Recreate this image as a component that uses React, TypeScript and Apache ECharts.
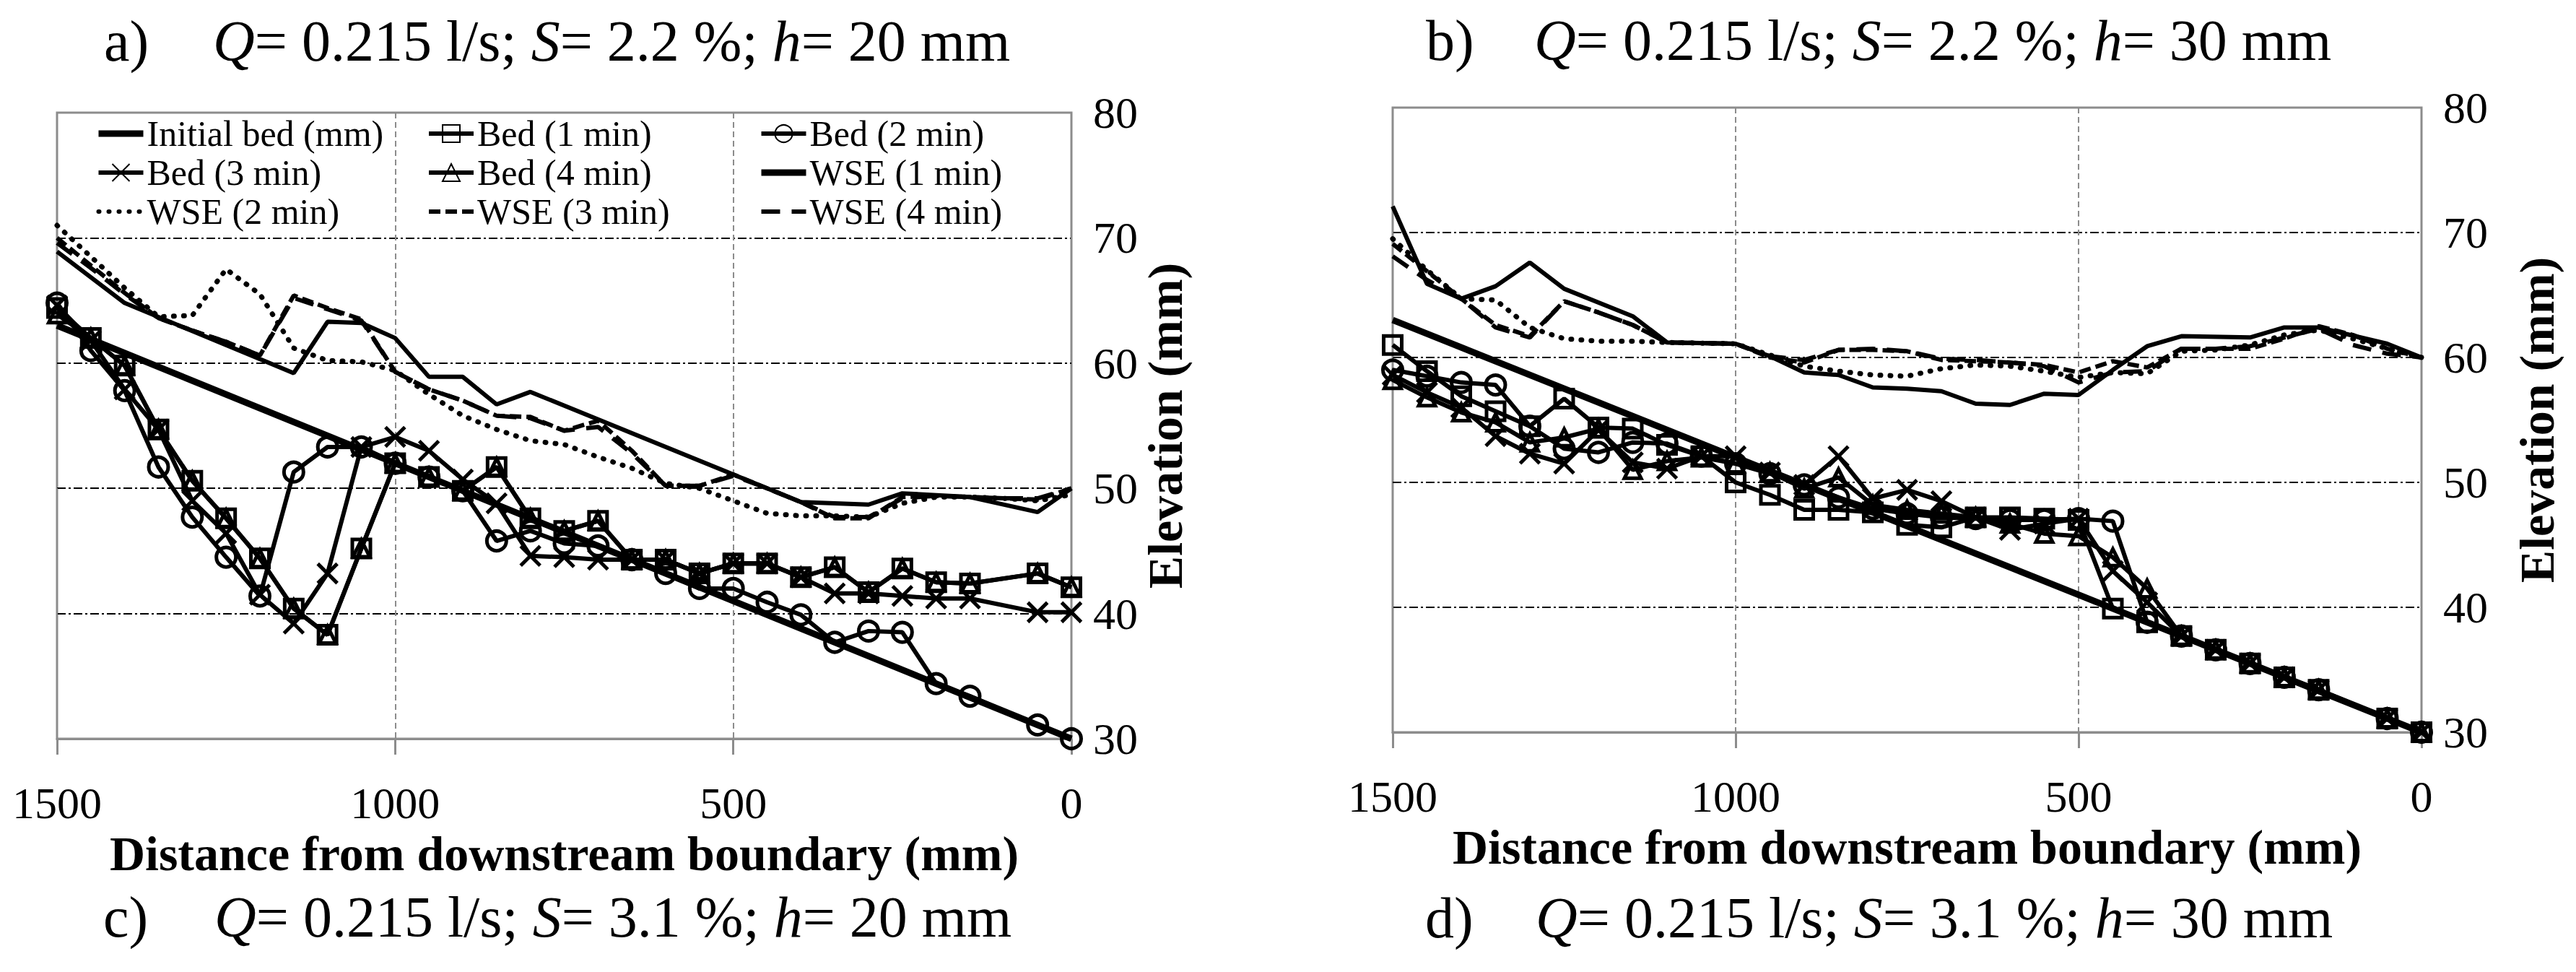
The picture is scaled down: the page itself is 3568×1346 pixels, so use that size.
import React, { useEffect, useRef } from 'react';
import * as echarts from 'echarts';

const FONT = '"Liberation Serif", "Times New Roman", serif';
const GREY = '#8c8c8c';

// x = distance from downstream boundary (mm), y = elevation (mm)
const initialBed = [[1500, 63.0], [0, 30.0]];

// panel a) h = 20 mm
const bed1A = [
  [1500, 64.4], [1450, 62.0], [1400, 59.8], [1350, 54.7], [1300, 50.6], [1250, 47.6], [1200, 44.4],
  [1150, 40.4], [1100, 38.3], [1050, 45.2], [1000, 52.0], [950, 50.9], [900, 49.8], [850, 51.7],
  [800, 47.6], [750, 46.6], [700, 47.4], [650, 44.3], [600, 44.3], [550, 43.2], [500, 44.0],
  [450, 44.0], [400, 42.9], [350, 43.7], [300, 41.7], [250, 43.6], [200, 42.5], [150, 42.4],
  [50, 43.2], [0, 42.1],
];
const bed2A = [
  [1500, 64.8], [1450, 61.0], [1400, 57.8], [1350, 51.7], [1300, 47.7], [1250, 44.5], [1200, 41.4],
  [1150, 51.3], [1100, 53.3], [1050, 53.3], [1000, 52.0], [950, 50.9], [900, 49.8], [850, 45.8],
  [800, 46.6], [750, 45.6], [700, 45.4], [650, 44.3], [600, 43.2], [550, 42.0], [500, 42.0],
  [450, 40.9], [400, 39.9], [350, 37.7], [300, 38.6], [250, 38.5], [200, 34.4], [150, 33.4],
  [50, 31.1], [0, 30.0],
];
const bed3A = [
  [1500, 64.6], [1450, 61.8], [1400, 57.9], [1350, 54.7], [1300, 49.0], [1250, 46.4], [1200, 41.5],
  [1150, 39.2], [1100, 43.2], [1050, 53.3], [1000, 54.1], [950, 53.0], [900, 50.7], [850, 48.8],
  [800, 44.6], [750, 44.5], [700, 44.3], [650, 44.3], [600, 44.3], [550, 43.2], [500, 44.0],
  [450, 44.0], [400, 42.9], [350, 41.6], [300, 41.6], [250, 41.4], [200, 41.2], [150, 41.2],
  [50, 40.1], [0, 40.1],
];
const bed4A = [
  [1500, 63.9], [1450, 62.0], [1400, 59.8], [1350, 54.7], [1300, 50.6], [1250, 47.6], [1200, 44.4],
  [1150, 40.4], [1100, 38.3], [1050, 45.2], [1000, 52.0], [950, 50.9], [900, 49.8], [850, 51.7],
  [800, 47.6], [750, 46.6], [700, 47.4], [650, 44.3], [600, 44.3], [550, 43.2], [500, 44.0],
  [450, 44.0], [400, 42.9], [350, 43.7], [300, 41.7], [250, 43.6], [200, 42.5], [150, 42.4],
  [50, 43.2], [0, 42.1],
];
const wse1A = [
  [1500, 68.9], [1400, 64.8], [1150, 59.2], [1100, 63.3], [1050, 63.2], [1000, 62.0], [950, 58.9],
  [900, 58.9], [850, 56.7], [800, 57.7], [400, 48.9], [300, 48.7], [250, 49.6], [150, 49.3],
  [50, 48.1], [0, 50.0],
];
const wse2A = [
  [1500, 71.0], [1450, 68.5], [1400, 66.0], [1350, 63.7], [1300, 63.8], [1250, 67.5], [1200, 65.5],
  [1150, 61.2], [1100, 60.2], [1050, 60.1], [1000, 59.4], [950, 57.5], [900, 55.8], [850, 54.7],
  [800, 53.8], [750, 53.5], [700, 52.5], [650, 51.6], [600, 50.4], [550, 50.0], [500, 49.0],
  [450, 48.0], [400, 47.8], [350, 47.8], [300, 47.7], [250, 48.8], [200, 49.3], [150, 49.3],
  [100, 49.2], [50, 49.0], [0, 49.5],
];
const wse3A = [
  [1500, 70.0], [1450, 67.8], [1400, 65.6], [1350, 63.6], [1300, 62.6], [1250, 61.7], [1200, 60.6],
  [1150, 65.4], [1100, 64.4], [1050, 63.5], [1000, 59.3], [950, 57.9], [900, 57.0], [850, 55.8],
  [800, 55.7], [750, 54.6], [700, 55.4], [650, 53.0], [600, 50.2], [550, 50.2], [500, 51.1],
  [450, 50.0], [400, 48.9], [350, 47.6], [300, 47.6], [250, 49.3], [200, 49.4], [150, 49.3],
  [100, 49.2], [50, 49.1], [0, 50.0],
];
const wse4A = [
  [1500, 69.6], [1450, 67.6], [1400, 65.5], [1350, 63.6], [1300, 62.6], [1250, 61.7], [1200, 60.6],
  [1150, 65.2], [1100, 64.3], [1050, 63.4], [1000, 59.3], [950, 57.9], [900, 57.0], [850, 55.8],
  [800, 55.6], [750, 54.6], [700, 54.9], [650, 52.8], [600, 50.2], [550, 50.2], [500, 51.0],
  [450, 50.0], [400, 48.9], [350, 47.7], [300, 47.7], [250, 49.2], [200, 49.4], [150, 49.3],
  [100, 49.2], [50, 49.2], [0, 50.0],
];

// panel b) h = 30 mm
const bed1B = [
  [1500, 61.0], [1450, 58.9], [1400, 56.9], [1350, 55.7], [1300, 54.5], [1250, 56.7], [1200, 54.4],
  [1150, 54.3], [1100, 53.0], [1050, 52.1], [1000, 50.0], [950, 49.0], [900, 47.8], [850, 47.8],
  [800, 47.6], [750, 46.6], [700, 46.4], [650, 47.2], [600, 47.2], [550, 47.1], [500, 47.0],
  [450, 39.9], [400, 38.8], [350, 37.7], [300, 36.6], [250, 35.5], [200, 34.4], [150, 33.4],
  [50, 31.1], [0, 30.0],
];
const bed2B = [
  [1500, 59.0], [1450, 58.5], [1400, 58.0], [1350, 57.8], [1300, 54.5], [1250, 52.7], [1200, 52.4],
  [1150, 53.2], [1100, 53.1], [1050, 52.1], [1000, 51.5], [950, 50.7], [900, 49.8], [850, 48.8],
  [800, 47.9], [750, 47.5], [700, 47.2], [650, 47.1], [600, 47.0], [550, 47.0], [500, 47.1],
  [450, 46.9], [400, 38.8], [350, 37.7], [300, 36.6], [250, 35.5], [200, 34.4], [150, 33.4],
  [50, 31.1], [0, 30.0],
];
const bed3B = [
  [1500, 58.6], [1450, 57.2], [1400, 56.0], [1350, 53.7], [1300, 52.3], [1250, 51.5], [1200, 54.2],
  [1150, 51.6], [1100, 51.1], [1050, 52.1], [1000, 52.1], [950, 50.8], [900, 49.8], [850, 52.1],
  [800, 48.7], [750, 49.4], [700, 48.5], [650, 47.2], [600, 46.2], [550, 46.7], [500, 47.1],
  [450, 42.9], [400, 40.4], [350, 37.7], [300, 36.6], [250, 35.5], [200, 34.4], [150, 33.4],
  [50, 31.1], [0, 30.0],
];
const bed4B = [
  [1500, 58.2], [1450, 56.8], [1400, 55.6], [1350, 54.8], [1300, 53.2], [1250, 53.6], [1200, 54.3],
  [1150, 51.0], [1100, 51.7], [1050, 52.0], [1000, 51.5], [950, 50.8], [900, 49.5], [850, 50.4],
  [800, 48.2], [750, 47.8], [700, 47.5], [650, 47.2], [600, 46.7], [550, 45.9], [500, 45.7],
  [450, 44.0], [400, 41.5], [350, 37.7], [300, 36.6], [250, 35.5], [200, 34.4], [150, 33.4],
  [50, 31.1], [0, 30.0],
];
const wse1B = [
  [1500, 72.1], [1450, 65.9], [1400, 64.7], [1350, 65.7], [1300, 67.6], [1250, 65.5], [1150, 63.3],
  [1100, 61.2], [1000, 61.1], [950, 60.1], [900, 58.8], [850, 58.6], [800, 57.6], [750, 57.5],
  [700, 57.3], [650, 56.3], [600, 56.2], [550, 57.1], [500, 57.0], [450, 59.0], [400, 60.9],
  [350, 61.7], [250, 61.6], [200, 62.4], [150, 62.4], [50, 61.1], [0, 60.0],
];
const wse2B = [
  [1500, 69.5], [1450, 67.0], [1400, 64.7], [1350, 64.6], [1300, 62.4], [1250, 61.5], [1200, 61.3],
  [1150, 61.3], [1100, 61.2], [1000, 61.1], [950, 60.2], [900, 59.3], [850, 58.9], [800, 58.6],
  [750, 58.5], [700, 59.1], [650, 59.4], [600, 59.3], [550, 58.9], [500, 58.4], [450, 58.8],
  [400, 58.7], [350, 60.5], [300, 60.6], [250, 61.0], [200, 61.8], [150, 62.2], [100, 61.5],
  [50, 60.7], [0, 60.0],
];
const wse3B = [
  [1500, 69.1], [1450, 66.9], [1400, 64.7], [1350, 62.6], [1300, 61.7], [1250, 64.5], [1200, 63.6],
  [1150, 62.6], [1100, 61.2], [1000, 61.1], [950, 60.0], [900, 59.6], [850, 60.6], [800, 60.6],
  [750, 60.5], [700, 59.8], [650, 59.7], [600, 59.6], [550, 59.4], [500, 58.8], [450, 59.7],
  [400, 59.2], [350, 60.7], [300, 60.7], [250, 60.7], [200, 61.5], [150, 62.5], [100, 61.8],
  [50, 60.7], [0, 60.0],
];
const wse4B = [
  [1500, 68.1], [1450, 66.2], [1400, 64.7], [1350, 62.4], [1300, 61.6], [1250, 64.5], [1200, 63.6],
  [1150, 62.6], [1100, 61.2], [1000, 61.1], [950, 60.1], [900, 59.8], [850, 60.6], [800, 60.7],
  [750, 60.5], [700, 59.9], [650, 59.8], [600, 59.6], [550, 59.3], [500, 58.0], [450, 58.8],
  [400, 58.9], [350, 60.7], [300, 60.7], [250, 60.9], [200, 61.6], [150, 62.3], [100, 61.0],
  [50, 60.3], [0, 60.0],
];

const seriesNames = [
  'Initial bed (mm)', 'Bed (1 min)', 'Bed (2 min)', 'Bed (3 min)', 'Bed (4 min)',
  'WSE (1 min)', 'WSE (2 min)', 'WSE (3 min)', 'WSE (4 min)',
];
const panelA = [initialBed, bed1A, bed2A, bed3A, bed4A, wse1A, wse2A, wse3A, wse4A];
const panelB = [initialBed, bed1B, bed2B, bed3B, bed4B, wse1B, wse2B, wse3B, wse4B];

// legend columns, read row by row in the original
const legendColumns = [
  ['Initial bed (mm)', 'Bed (3 min)', 'WSE (2 min)'],
  ['Bed (1 min)', 'Bed (4 min)', 'WSE (3 min)'],
  ['Bed (2 min)', 'WSE (1 min)', 'WSE (4 min)'],
];

const panelLabels = ['a)', 'b)', 'c)', 'd)'];
const slopes = ['2.2', '2.2', '3.1', '3.1'];
const depths = ['20', '30', '20', '30'];
const discharge = '0.215';

const CROSS = 'path://M0,0L10,10M10,0L0,10';

const styleOf = (name: string): any => {
  const marker = { color: 'rgba(0,0,0,0)', borderColor: '#000', borderWidth: 5 };
  const bedLine = { color: '#000', width: 6 };
  switch (name) {
    case 'Initial bed (mm)':
      return { symbol: 'none', lineStyle: { color: '#000', width: 9 } };
    case 'Bed (1 min)':
      return { symbol: 'rect', symbolSize: 25, itemStyle: marker, lineStyle: bedLine };
    case 'Bed (2 min)':
      return { symbol: 'circle', symbolSize: 27, itemStyle: marker, lineStyle: bedLine };
    case 'Bed (3 min)':
      return { symbol: CROSS, symbolSize: 27, itemStyle: marker, lineStyle: bedLine };
    case 'Bed (4 min)':
      return { symbol: 'triangle', symbolSize: 23, itemStyle: marker, lineStyle: bedLine };
    case 'WSE (1 min)':
      return { symbol: 'none', lineStyle: { color: '#000', width: 6 } };
    case 'WSE (2 min)':
      return { symbol: 'none', lineStyle: { color: '#000', width: 7, type: [1, 13], cap: 'round' } };
    case 'WSE (3 min)':
      return { symbol: 'none', lineStyle: { color: '#000', width: 6, type: [16, 7] } };
    default:
      return { symbol: 'none', lineStyle: { color: '#000', width: 6, type: [26, 16] } };
  }
};

// legend entries: the lines keep their own dash, markers only where the series has one
const legendItem = (name: string) => {
  const s = styleOf(name);
  const item: any = { name, lineStyle: { ...s.lineStyle, width: name === 'Initial bed (mm)' || name === 'WSE (1 min)' ? 9 : 6 } };
  if (s.symbol === 'none') item.itemStyle = { opacity: 0 };
  return item;
};

const xAxisOf = (gridIndex: number, nameGap: number) => ({
  type: 'value',
  gridIndex,
  inverse: true,
  min: 0,
  max: 1500,
  interval: 500,
  name: 'Distance from downstream boundary (mm)',
  nameLocation: 'middle',
  nameGap,
  nameTextStyle: { fontFamily: FONT, fontSize: 68, fontWeight: 'bold', color: '#000' },
  axisLine: { lineStyle: { color: GREY, width: 3 } },
  axisTick: { length: 22, lineStyle: { color: GREY, width: 3 } },
  axisLabel: { fontFamily: FONT, fontSize: 62, color: '#000', margin: 58, formatter: (v: number) => String(v) },
  splitLine: { lineStyle: { color: GREY, width: 2, type: [8, 5] } },
});

const yAxisOf = (gridIndex: number, nameGap: number) => ({
  type: 'value',
  gridIndex,
  position: 'right',
  min: 30,
  max: 80,
  interval: 10,
  name: 'Elevation (mm)',
  nameLocation: 'middle',
  nameRotate: 90,
  nameGap,
  nameTextStyle: { fontFamily: FONT, fontSize: 68, fontWeight: 'bold', color: '#000' },
  axisLine: { show: false },
  axisTick: { show: false },
  axisLabel: { fontFamily: FONT, fontSize: 62, color: '#000', margin: 30 },
  splitLine: {
    lineStyle: {
      // no dash-dot line on the frame itself (30 and 80)
      color: ['rgba(0,0,0,0)', '#000', '#000', '#000', '#000', 'rgba(0,0,0,0)'],
      width: 2,
      type: [12, 4, 3, 4],
    },
  },
});

const App: React.FC = () => {
  const chartRef = useRef<HTMLDivElement>(null);

  useEffect(() => {
    document.body.style.margin = '0';
    if (!chartRef.current) return;

    const chart = echarts.init(chartRef.current, undefined, { renderer: 'svg' });

    const series = [panelA, panelB].flatMap((panel, p) =>
      panel.map((data, i) => ({
        type: 'line',
        name: seriesNames[i],
        xAxisIndex: p,
        yAxisIndex: p,
        data,
        ...styleOf(seriesNames[i]),
      })),
    );

    const titlePos = [
      { x: 144, qx: 295, y: 57 },
      { x: 1975, qx: 2125, y: 56 },
      { x: 143, qx: 297, y: 1270 },
      { x: 1974, qx: 2127, y: 1271 },
    ];

    const titleFont = { fontFamily: FONT, fontSize: 80, fill: '#000', verticalAlign: 'middle' };
    const titles = panelLabels.flatMap((label, i) => [
      { type: 'text', x: titlePos[i].x, y: titlePos[i].y, style: { ...titleFont, text: label } },
      {
        type: 'text',
        x: titlePos[i].qx,
        y: titlePos[i].y,
        style: {
          ...titleFont,
          text: `{i|Q}= ${discharge} l/s; {i|S}= ${slopes[i]} %; {i|h}= ${depths[i]} mm`,
          rich: { i: { fontFamily: FONT, fontSize: 80, fontStyle: 'italic' } },
        },
      },
    ]);

    const legendLeft = [132, 591, 1050];

    const option: echarts.EChartsOption = {
      animation: false,
      backgroundColor: '#fff',
      grid: [
        { left: 79, top: 156, width: 1405, height: 867, show: true, borderColor: GREY, borderWidth: 3 },
        { left: 1929, top: 149, width: 1425, height: 865, show: true, borderColor: GREY, borderWidth: 3 },
      ],
      xAxis: [xAxisOf(0, 108), xAxisOf(1, 122)] as any,
      yAxis: [yAxisOf(0, 84), yAxisOf(1, 126)] as any,
      legend: legendColumns.map((names, c) => ({
        data: names.map(legendItem),
        orient: 'vertical',
        left: legendLeft[c],
        top: 160,
        padding: 0,
        itemGap: 4,
        itemWidth: 62,
        itemHeight: 30,
        selectedMode: false,
        textStyle: { fontFamily: FONT, fontSize: 50, lineHeight: 50, color: '#000' },
      })) as any,
      graphic: titles as any,
      series: series as any,
    };

    chart.setOption(option);

    return () => {
      chart.dispose();
    };
  }, []);

  return <div ref={chartRef} style={{ width: 3568, height: 1346 }} />;
};

export default App;
